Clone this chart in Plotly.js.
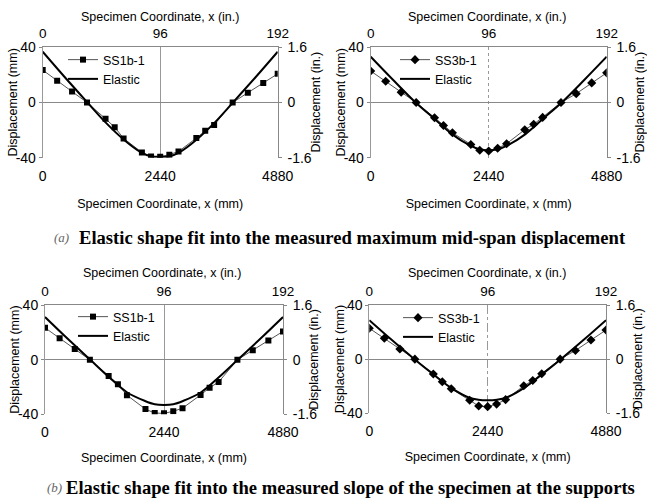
<!DOCTYPE html>
<html>
<head>
<meta charset="utf-8">
<script src="https://cdn.plot.ly/plotly-3.0.1.min.js"></script>
<style>html,body{margin:0;padding:0;background:#fff;}#chart{width:647px;height:502px;}</style>
</head>
<body>
<div id="chart"></div>
<script>
// ---- data ----
const mmTicks = [0, 2440, 4880];
const mmTickText = ['0', '2440', '4880'];
const inTicks = [0, 96, 192];
const inTickText = ['0', '96', '192'];
const dispTicks = [-40, 0, 40];
const dispTickText = ['-40', '0', '40'];
const dispInTicks = [-1.6, 0, 1.6];
const dispInTickText = ['-1.6', '0', '1.6'];

// measured SS1b-1 (mm)
const xSS1 = [0, 300, 610, 920, 1305, 1495, 1680, 2060, 2250, 2440, 2630, 2820, 3190, 3375, 3560, 3945, 4260, 4580, 4880];
const ySS1 = [23.5, 15.8, 7.9, 0, -11.8, -17.9, -26.0, -36.2, -39.1, -39.3, -37.8, -35.5, -25.8, -20.5, -16.3, 0, 7.1, 14.1, 20.8];
// measured SS3b-1 (mm)
const xSS3 = [0, 310, 630, 940, 1320, 1505, 1690, 2070, 2255, 2440, 2625, 2810, 3185, 3370, 3555, 3935, 4250, 4570, 4880];
const ySS3 = [22.8, 15.4, 7.5, 0, -11.0, -16.7, -21.9, -30.4, -34.6, -35.1, -33.2, -29.9, -19.7, -15.8, -10.8, 0, 6.4, 14.2, 21.5];

// elastic fits (mm)
const xEl = [0, 460, 930, 1310, 1680, 2050, 2250, 2440, 2630, 2830, 3200, 3570, 3950, 4420, 4880];
const elA1 = [36.8, 18.3, 0, -14.6, -26.8, -36.3, -39.0, -39.4, -39.0, -36.3, -26.8, -14.6, 0, 18.3, 36.8];
const elA3 = [33.2, 16.5, 0, -11.6, -22.9, -31.1, -33.9, -34.7, -33.9, -31.1, -22.9, -11.6, 0, 16.5, 33.2];
const elB1 = [31.4, 15.6, 0, -12.6, -23.8, -30.2, -32.6, -33.1, -32.6, -30.2, -23.8, -12.6, 0, 15.6, 31.4];
const elB3 = [28.8, 14.3, 0, -10.9, -21.0, -28.3, -30.0, -30.4, -30.0, -28.3, -21.0, -10.9, 0, 14.3, 28.8];

const titleMm = 'Specimen Coordinate, x (mm)';
const titleIn = 'Specimen Coordinate, x (in.)';
const titleDispMm = 'Displacement (mm)';
const titleDispIn = 'Displacement (in.)';

// ---- layout helpers ----
const W = 647, H = 502;
const FONT = 'Liberation Sans, Arial, sans-serif';
const SERIF = 'Liberation Serif, Times New Roman, serif';
const panels = [
  {px: [42.7, 277.7], py: [47.3, 157.7], mName: 'SS1b-1', mx: xSS1, my: ySS1, sym: 'square', msize: 6, el: elA1, dash: 'solid', leg: [63, 45], bst: 16,
   topT: [160, 17.5], leftT: 12, rightT: 315},
  {px: [370.7, 606.7], py: [47.3, 157.7], mName: 'SS3b-1', mx: xSS3, my: ySS3, sym: 'diamond', msize: 7, el: elA3, dash: 'dot', leg: [395, 45], bst: 16,
   topT: [487.5, 17.5], leftT: 340, rightT: 639},
  {px: [45, 283], py: [305.3, 414.3], mName: 'SS1b-1', mx: xSS1, my: ySS1, sym: 'square', msize: 6, el: elB1, dash: 'solid', leg: [73, 302], bst: 13,
   topT: [161.7, 273], leftT: 15, rightT: 314},
  {px: [369.3, 606], py: [305, 413.3], mName: 'SS3b-1', mx: xSS3, my: ySS3, sym: 'diamond', msize: 7, el: elB3, dash: 'dashdot', leg: [398, 303], bst: 13,
   topT: [486.7, 273], leftT: 340, rightT: 638}
];

const data = [];
const layout = {
  width: W, height: H,
  margin: {l: 0, r: 0, t: 0, b: 0},
  paper_bgcolor: '#fff', plot_bgcolor: '#fff',
  font: {family: FONT, size: 13, color: '#000'},
  showlegend: true,
  annotations: []
};
const titleFont = {size: 12.5, family: FONT, color: '#000'};

panels.forEach((p, k) => {
  const n1 = 2 * k + 1, n2 = 2 * k + 2;
  const xid = n1 === 1 ? 'x' : 'x' + n1;
  const yid = n1 === 1 ? 'y' : 'y' + n1;
  const xkey = n1 === 1 ? 'xaxis' : 'xaxis' + n1;
  const ykey = n1 === 1 ? 'yaxis' : 'yaxis' + n1;
  const legKey = k === 0 ? 'legend' : 'legend' + (k + 1);
  const dx = [p.px[0] / W, p.px[1] / W];
  const dy = [1 - p.py[1] / H, 1 - p.py[0] / H];
  const midY = 1 - (p.py[0] + p.py[1]) / 2 / H;

  layout[xkey] = {
    domain: dx, anchor: yid, range: [0, 4880],
    tickmode: 'array', tickvals: mmTicks, ticktext: mmTickText,
    showgrid: true, gridcolor: '#999', gridwidth: 1, griddash: p.dash,
    zeroline: false, showline: false, ticks: '', ticklabelstandoff: 8,
    tickfont: {size: 14, family: FONT},
    title: {text: titleMm, font: titleFont, standoff: p.bst},
    fixedrange: true
  };
  layout['xaxis' + n2] = {
    overlaying: xid, anchor: yid, side: 'top', range: [0, 192],
    tickmode: 'array', tickvals: inTicks, ticktext: inTickText,
    showgrid: false, zeroline: false, showline: true, linecolor: '#888', linewidth: 1, ticks: '',
    ticklabelstandoff: 3,
    tickfont: {size: 13.5, family: FONT},
    fixedrange: true
  };
  layout[ykey] = {
    domain: dy, anchor: xid, range: [-40, 40],
    tickmode: 'array', tickvals: dispTicks, ticktext: dispTickText,
    showgrid: true, gridcolor: '#aaa', gridwidth: 1, griddash: 'dot',
    zeroline: true, zerolinecolor: '#888', zerolinewidth: 1,
    showline: true, linecolor: '#999', linewidth: 1,
    ticks: 'outside', ticklen: 3, tickcolor: '#888',
    tickfont: {size: 14, family: FONT},
    fixedrange: true
  };
  layout['yaxis' + n2] = {
    overlaying: yid, anchor: xid, side: 'right', range: [-1.6, 1.6],
    tickmode: 'array', tickvals: dispInTicks, ticktext: dispInTickText,
    showgrid: false, zeroline: false, showline: true, linecolor: '#888', linewidth: 1,
    ticks: 'outside', ticklen: 3, tickcolor: '#888', ticklabelstandoff: 3,
    tickfont: {size: 14, family: FONT},
    fixedrange: true
  };
  layout[legKey] = {
    x: p.leg[0] / W, y: 1 - p.leg[1] / H, xanchor: 'left', yanchor: 'top',
    bgcolor: 'rgba(0,0,0,0)', borderwidth: 0,
    font: {size: 12.5, family: FONT, color: '#000'},
    itemwidth: 30, tracegroupgap: 0
  };

  // axis titles for the inch axes and the displacement axes
  layout.annotations.push(
    {xref: 'paper', yref: 'paper', x: p.topT[0] / W, y: 1 - p.topT[1] / H, xanchor: 'center', yanchor: 'middle',
     text: titleIn, showarrow: false, font: titleFont, borderpad: 0},
    {xref: 'paper', yref: 'paper', x: p.leftT / W, y: midY, xanchor: 'center', yanchor: 'middle',
     text: titleDispMm, textangle: -90, showarrow: false, font: titleFont, borderpad: 0},
    {xref: 'paper', yref: 'paper', x: p.rightT / W, y: midY, xanchor: 'center', yanchor: 'middle',
     text: titleDispIn, textangle: -90, showarrow: false, font: titleFont, borderpad: 0}
  );

  data.push({
    x: p.mx, y: p.my, xaxis: xid, yaxis: yid, legend: legKey,
    name: p.mName, type: 'scatter', mode: 'lines+markers',
    line: {color: '#555', width: 1},
    marker: {symbol: p.sym, size: p.msize, color: '#000'}
  });
  data.push({
    x: xEl, y: p.el, xaxis: xid, yaxis: yid, legend: legKey,
    name: 'Elastic', type: 'scatter', mode: 'lines',
    line: {color: '#000', width: 2, shape: 'spline', smoothing: 1}
  });
  // empty trace so the secondary (inch) axes are drawn
  data.push({
    x: [null], y: [null], xaxis: 'x' + n2, yaxis: 'y' + n2,
    type: 'scatter', mode: 'markers', showlegend: false, hoverinfo: 'skip'
  });
});

// captions
layout.annotations.push(
  {xref: 'paper', yref: 'paper', x: 62 / W, y: 1 - 237 / H, xanchor: 'center', yanchor: 'middle',
   text: '<i>(a)</i>', showarrow: false, font: {family: SERIF, size: 13, color: '#666'}},
  {xref: 'paper', yref: 'paper', x: 352.5 / W, y: 1 - 237 / H, xanchor: 'center', yanchor: 'middle',
   text: '<b>Elastic shape fit into the measured maximum mid-span displacement</b>', showarrow: false,
   font: {family: SERIF, size: 18.6, color: '#000'}},
  {xref: 'paper', yref: 'paper', x: 54 / W, y: 1 - 487 / H, xanchor: 'center', yanchor: 'middle',
   text: '<i>(b)</i>', showarrow: false, font: {family: SERIF, size: 13, color: '#666'}},
  {xref: 'paper', yref: 'paper', x: 350 / W, y: 1 - 487 / H, xanchor: 'center', yanchor: 'middle',
   text: '<b>Elastic shape fit into the measured slope of the specimen at the supports</b>', showarrow: false,
   font: {family: SERIF, size: 18.6, color: '#000'}}
);

Plotly.newPlot('chart', data, layout, {displayModeBar: false, staticPlot: true});
</script>
</body>
</html>
